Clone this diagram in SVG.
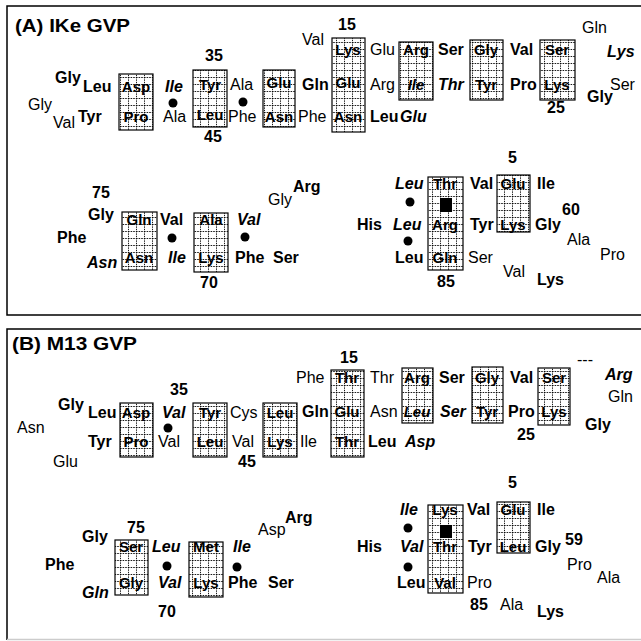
<svg xmlns="http://www.w3.org/2000/svg" width="641" height="641" viewBox="0 0 641 641">
<style>
text{font-family:"Liberation Sans",Arial,sans-serif;font-size:16px;fill:#000}
.r{font-weight:normal}
.b{font-weight:bold}
.bi{font-weight:bold;font-style:italic}
.t{font-weight:bold;font-size:18px}
.bx text{font-weight:bold;font-size:15px;text-anchor:middle}
.bx text.i{font-style:italic}
.bx rect.h{fill:url(#hatch);stroke:#000;stroke-width:1.2}
.frame{fill:none;stroke:#000;stroke-width:1.5}
</style>
<defs>
<pattern id="hatch" width="8" height="7" patternUnits="userSpaceOnUse">
<rect width="8" height="7" fill="#fff"/>
<path d="M0 0.5H8" stroke="#000" stroke-width="0.9" stroke-dasharray="1.6 1"/>
<path d="M0.5 0V7" stroke="#000" stroke-width="0.9" stroke-dasharray="1.4 1"/>
</pattern>
</defs>
<rect width="641" height="641" fill="#fff"/>

<g id="panelA">
<path class="frame" d="M641 6H7V315H641"/>
<text class="t" x="15" y="32" textLength="115" lengthAdjust="spacingAndGlyphs">(A) IKe GVP</text>

<g id="A-boxes" class="bx">
<g id="A-box1"><rect class="h" x="119" y="74" width="34" height="56"/><text x="136" y="92">Asp</text><text x="136" y="122">Pro</text></g>
<g id="A-box2"><rect class="h" x="193" y="70" width="34" height="57"/><text x="210" y="90">Tyr</text><text x="210" y="120">Leu</text></g>
<g id="A-box3"><rect class="h" x="263" y="70" width="32" height="57"/><text x="279" y="88">Glu</text><text x="279" y="122">Asn</text></g>
<g id="A-box4"><rect class="h" x="332" y="38" width="33" height="94"/><text x="348" y="55">Lys</text><text x="348" y="88">Glu</text><text x="348" y="122">Asn</text></g>
<g id="A-box5"><rect class="h" x="399" y="42" width="34" height="58"/><text x="416" y="55">Arg</text><text class="i" x="416" y="90">Ile</text></g>
<g id="A-box6"><rect class="h" x="470" y="40" width="33" height="60"/><text x="486" y="55">Gly</text><text x="486" y="90">Tyr</text></g>
<g id="A-box7"><rect class="h" x="540" y="40" width="35" height="60"/><text x="557" y="55">Ser</text><text x="557" y="90">Lys</text></g>
<g id="A-box8"><rect class="h" x="122" y="212" width="35" height="58"/><text x="139" y="225">Gln</text><text x="139" y="263">Asn</text></g>
<g id="A-box9"><rect class="h" x="194" y="213" width="34" height="59"/><text x="211" y="225">Ala</text><text x="211" y="263">Lys</text></g>
<g id="A-box10"><rect class="h" x="428" y="177" width="35" height="93"/><text x="445" y="189">Thr</text><rect x="440" y="198" width="12" height="14" fill="#000"/><text x="445" y="230">Arg</text><text x="445" y="263">Gln</text></g>
<g id="A-box11"><rect class="h" x="497" y="175" width="33" height="57"/><text x="513" y="189">Glu</text><text x="513" y="230">Lys</text></g>
</g>

<g id="A-dots">
<circle cx="173" cy="103" r="4.5"/><circle cx="243" cy="102" r="4.5"/>
<circle cx="172" cy="238" r="4.5"/><circle cx="245" cy="237" r="4.5"/>
<circle cx="410" cy="202" r="4.5"/><circle cx="408" cy="241" r="4.5"/>
</g>

<g id="A-labels">
<text class="b" x="55" y="83">Gly</text>
<text class="b" x="83" y="92">Leu</text>
<text class="r" x="28" y="110">Gly</text>
<text class="r" x="53" y="128">Val</text>
<text class="b" x="78" y="122">Tyr</text>
<text class="bi" x="165" y="92">Ile</text>
<text class="r" x="163" y="122">Ala</text>
<text class="b" x="205" y="61">35</text>
<text class="b" x="204" y="142">45</text>
<text class="r" x="230" y="90">Ala</text>
<text class="r" x="228" y="122">Phe</text>
<text class="b" x="302" y="90">Gln</text>
<text class="r" x="298" y="122">Phe</text>
<text class="r" x="302" y="45">Val</text>
<text class="b" x="338" y="30">15</text>
<text class="r" x="370" y="55">Glu</text>
<text class="r" x="370" y="90">Arg</text>
<text class="b" x="370" y="122">Leu</text>
<text class="bi" x="400" y="122">Glu</text>
<text class="b" x="438" y="55">Ser</text>
<text class="bi" x="438" y="90">Thr</text>
<text class="b" x="510" y="55">Val</text>
<text class="b" x="510" y="90">Pro</text>
<text class="b" x="547" y="113">25</text>
<text class="r" x="582" y="33">Gln</text>
<text class="bi" x="607" y="57">Lys</text>
<text class="r" x="610" y="90">Ser</text>
<text class="b" x="587" y="102">Gly</text>

<text class="b" x="92" y="198">75</text>
<text class="b" x="88" y="220">Gly</text>
<text class="b" x="57" y="243">Phe</text>
<text class="bi" x="87" y="268">Asn</text>
<text class="b" x="160" y="225">Val</text>
<text class="bi" x="168" y="263">Ile</text>
<text class="b" x="200" y="288">70</text>
<text class="bi" x="237" y="225">Val</text>
<text class="b" x="235" y="263">Phe</text>
<text class="b" x="273" y="263">Ser</text>
<text class="r" x="268" y="205">Gly</text>
<text class="b" x="293" y="192">Arg</text>
<text class="b" x="508" y="163">5</text>
<text class="bi" x="395" y="189">Leu</text>
<text class="b" x="357" y="230">His</text>
<text class="bi" x="393" y="230">Leu</text>
<text class="b" x="395" y="263">Leu</text>
<text class="b" x="437" y="287">85</text>
<text class="b" x="470" y="189">Val</text>
<text class="b" x="470" y="230">Tyr</text>
<text class="r" x="468" y="263">Ser</text>
<text class="b" x="537" y="189">Ile</text>
<text class="b" x="535" y="230">Gly</text>
<text class="b" x="562" y="215">60</text>
<text class="r" x="567" y="245">Ala</text>
<text class="r" x="600" y="260">Pro</text>
<text class="r" x="503" y="277">Val</text>
<text class="b" x="537" y="285">Lys</text>
</g>
</g>

<g id="panelB">
<path class="frame" d="M641 329H7V640"/>
<path d="M7 639.5H641" stroke="#ccc" stroke-width="1.5"/>
<text class="t" x="12" y="350" textLength="125" lengthAdjust="spacingAndGlyphs">(B) M13 GVP</text>

<g id="B-boxes" class="bx">
<g id="B-box1"><rect class="h" x="120" y="403" width="33" height="54"/><text x="136" y="418">Asp</text><text x="136" y="447">Pro</text></g>
<g id="B-box2"><rect class="h" x="193" y="403" width="34" height="54"/><text x="210" y="418">Tyr</text><text x="210" y="447">Leu</text></g>
<g id="B-box3"><rect class="h" x="263" y="403" width="34" height="54"/><text x="280" y="418">Leu</text><text x="280" y="447">Lys</text></g>
<g id="B-box4"><rect class="h" x="331" y="370" width="33" height="87"/><text x="347" y="383">Thr</text><text x="347" y="417">Glu</text><text x="347" y="447">Thr</text></g>
<g id="B-box5"><rect class="h" x="402" y="368" width="31" height="55"/><text x="417" y="383">Arg</text><text class="i" x="417" y="417">Leu</text></g>
<g id="B-box6"><rect class="h" x="472" y="367" width="31" height="56"/><text x="487" y="383">Gly</text><text x="487" y="417">Tyr</text></g>
<g id="B-box7"><rect class="h" x="538" y="368" width="32" height="57"/><text x="554" y="383">Ser</text><text x="554" y="417">Lys</text></g>
<g id="B-box8"><rect class="h" x="115" y="540" width="33" height="55"/><text x="131" y="552">Ser</text><text x="131" y="588">Gly</text></g>
<g id="B-box9"><rect class="h" x="189" y="542" width="34" height="55"/><text x="206" y="552">Met</text><text x="206" y="588">Lys</text></g>
<g id="B-box10"><rect class="h" x="428" y="505" width="35" height="88"/><text x="445" y="515">Lys</text><rect x="440" y="525" width="12" height="13" fill="#000"/><text x="445" y="552">Thr</text><text x="445" y="588">Val</text></g>
<g id="B-box11"><rect class="h" x="497" y="502" width="33" height="51"/><text x="513" y="515">Glu</text><text x="513" y="552">Leu</text></g>
</g>

<g id="B-dots">
<circle cx="168" cy="428" r="4.5"/>
<circle cx="167" cy="566" r="4.5"/><circle cx="237" cy="567" r="4.5"/>
<circle cx="408" cy="528" r="4.5"/><circle cx="408" cy="567" r="4.5"/>
</g>

<g id="B-labels">
<text class="r" x="296" y="383">Phe</text>
<text class="b" x="170" y="395">35</text>
<text class="b" x="58" y="410">Gly</text>
<text class="b" x="88" y="418">Leu</text>
<text class="bi" x="162" y="418">Val</text>
<text class="r" x="158" y="447">Val</text>
<text class="r" x="230" y="418">Cys</text>
<text class="r" x="232" y="447">Val</text>
<text class="b" x="238" y="467">45</text>
<text class="b" x="302" y="417">Gln</text>
<text class="r" x="300" y="447">Ile</text>
<text class="r" x="17" y="433">Asn</text>
<text class="r" x="53" y="467">Glu</text>
<text class="b" x="88" y="447">Tyr</text>
<text class="b" x="340" y="363">15</text>
<text class="r" x="370" y="383">Thr</text>
<text class="r" x="370" y="417">Asn</text>
<text class="b" x="368" y="447">Leu</text>
<text class="bi" x="405" y="447">Asp</text>
<text class="b" x="439" y="383">Ser</text>
<text class="bi" x="440" y="417">Ser</text>
<text class="b" x="510" y="383">Val</text>
<text class="b" x="508" y="417">Pro</text>
<text class="b" x="517" y="440">25</text>
<text class="r" x="577" y="365">---</text>
<text class="bi" x="605" y="380">Arg</text>
<text class="r" x="608" y="402">Gln</text>
<text class="b" x="585" y="430">Gly</text>

<text class="b" x="127" y="533">75</text>
<text class="b" x="82" y="542">Gly</text>
<text class="b" x="45" y="570">Phe</text>
<text class="bi" x="82" y="598">Gln</text>
<text class="bi" x="152" y="552">Leu</text>
<text class="bi" x="158" y="588">Val</text>
<text class="b" x="158" y="617">70</text>
<text class="bi" x="233" y="552">Ile</text>
<text class="b" x="228" y="588">Phe</text>
<text class="b" x="268" y="588">Ser</text>
<text class="r" x="258" y="535">Asp</text>
<text class="b" x="285" y="523">Arg</text>
<text class="b" x="508" y="488">5</text>
<text class="bi" x="400" y="515">Ile</text>
<text class="b" x="357" y="552">His</text>
<text class="bi" x="400" y="552">Val</text>
<text class="b" x="397" y="588">Leu</text>
<text class="b" x="467" y="515">Val</text>
<text class="b" x="468" y="552">Tyr</text>
<text class="r" x="467" y="588">Pro</text>
<text class="b" x="537" y="515">Ile</text>
<text class="b" x="535" y="552">Gly</text>
<text class="b" x="565" y="545">59</text>
<text class="r" x="567" y="570">Pro</text>
<text class="r" x="597" y="583">Ala</text>
<text class="b" x="470" y="610">85</text>
<text class="r" x="500" y="610">Ala</text>
<text class="b" x="537" y="617">Lys</text>
</g>
</g>
</svg>
